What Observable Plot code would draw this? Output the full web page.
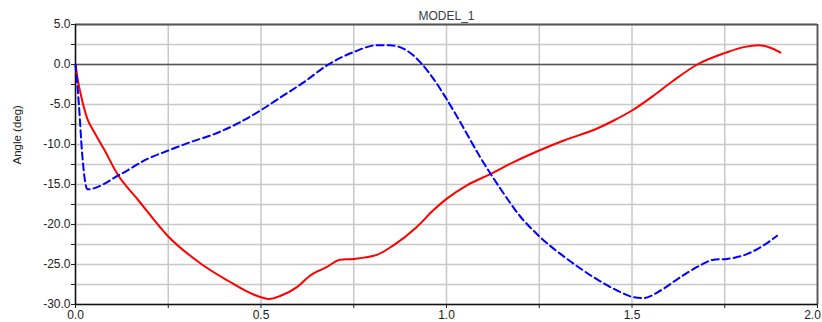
<!DOCTYPE html>
<html>
<head>
<meta charset="utf-8">
<script src="https://cdn.jsdelivr.net/npm/d3@7"></script>
<script src="https://cdn.jsdelivr.net/npm/@observablehq/plot@0.6"></script>
<style>
  html, body { margin: 0; padding: 0; background: #fff; }
  #chart svg { display: block; }
</style>
</head>
<body>
<div id="chart"></div>
<script>
const title = "MODEL_1";
const yLabel = "Angle (deg)";

const redX = [0, 0.005, 0.018, 0.032, 0.05, 0.077, 0.113, 0.17, 0.248, 0.338, 0.41, 0.48, 0.522, 0.553, 0.598, 0.632, 0.678, 0.713, 0.749, 0.812, 0.857, 0.92, 0.965, 1.0, 1.055, 1.118, 1.181, 1.25, 1.316, 1.406, 1.451, 1.5, 1.558, 1.612, 1.676, 1.752, 1.801, 1.842, 1.873, 1.9];
const redY = [0, -1.6, -4.5, -6.8, -8.4, -10.6, -13.7, -17.0, -21.4, -24.9, -27.0, -28.75, -29.3, -28.9, -27.8, -26.4, -25.3, -24.4, -24.3, -23.8, -22.6, -20.3, -18.2, -16.8, -15.1, -13.7, -12.2, -10.75, -9.5, -8.0, -7.0, -5.75, -3.9, -2.0, 0, 1.46, 2.17, 2.4, 2.1, 1.5];

const blueX = [0, 0.005, 0.009, 0.018, 0.032, 0.122, 0.194, 0.25, 0.31, 0.374, 0.436, 0.5, 0.553, 0.616, 0.678, 0.749, 0.812, 0.848, 0.893, 0.929, 0.965, 1.0, 1.037, 1.091, 1.145, 1.199, 1.253, 1.325, 1.397, 1.46, 1.505, 1.531, 1.577, 1.63, 1.684, 1.72, 1.756, 1.81, 1.855, 1.891];
const blueY = [0, -2.6, -4.9, -11.2, -15.6, -13.7, -11.8, -10.75, -9.7, -8.7, -7.4, -5.7, -4.1, -2.2, -0.1, 1.54, 2.4, 2.4, 1.75, 0.3, -1.8, -4.3, -7.2, -11.6, -15.5, -19.0, -21.6, -24.3, -26.6, -28.25, -29.1, -29.2, -28.25, -26.6, -25.1, -24.4, -24.3, -23.7, -22.6, -21.4];

const xTicks = [0, 0.25, 0.5, 0.75, 1.0, 1.25, 1.5, 1.75, 2.0];
const yTicks = [-30, -27.5, -25, -22.5, -20, -17.5, -15, -12.5, -10, -7.5, -5, -2.5, 0, 2.5, 5];

const red = redX.map((x, i) => ({x, y: redY[i]}));
const blue = blueX.map((x, i) => ({x, y: blueY[i]}));

const chart = Plot.plot({
  width: 822,
  height: 322,
  marginLeft: 75,
  marginRight: 5,
  marginTop: 24,
  marginBottom: 18,
  style: {fontFamily: "'Liberation Sans', Arial, sans-serif", fontSize: "12px", color: "#222", background: "#fff"},
  x: {domain: [0, 2]},
  y: {domain: [-30, 5]},
  marks: [
    Plot.gridX(xTicks, {stroke: "#c8c8c8", strokeOpacity: 1, strokeWidth: 1.5}),
    Plot.gridY(yTicks, {stroke: "#c8c8c8", strokeOpacity: 1, strokeWidth: 1.5}),
    Plot.ruleY([0], {stroke: "#555", strokeWidth: 1.5}),
    Plot.ruleY([5], {stroke: "#555", strokeWidth: 1.8}),
    Plot.ruleX([2], {stroke: "#555", strokeWidth: 1.8}),
    Plot.ruleX([0], {stroke: "#111", strokeWidth: 1.5}),
    Plot.ruleY([-30], {stroke: "#111", strokeWidth: 1.5}),
    Plot.axisX({ticks: xTicks, tickFormat: d => (Math.round(d * 100) % 50 === 0 && d < 2 ? d.toFixed(1) : ""), tickSize: 4, tickPadding: 2, label: null, fontSize: 12, color: "#222"}),
    Plot.axisX({ticks: [2], tickFormat: d => d.toFixed(1), tickSize: 0, tickPadding: 6, dx: -5, label: null, fontSize: 12, color: "#222"}),
    Plot.axisY({ticks: yTicks, tickFormat: d => (d % 5 === 0 ? d.toFixed(1) : ""), tickSize: 4, tickPadding: 1, label: null, fontSize: 12, color: "#222"}),
    Plot.line(red, {x: "x", y: "y", stroke: "#ff0000", strokeWidth: 2, curve: "monotone-x"}),
    Plot.line(blue, {x: "x", y: "y", stroke: "#0000ff", strokeWidth: 2, strokeDasharray: "7,4", curve: "monotone-x"}),
    Plot.text([title], {frameAnchor: "top", lineAnchor: "bottom", text: d => d, dy: -5, fontSize: 12, fill: "#3a3a48"}),
    Plot.text([yLabel], {frameAnchor: "left", text: d => d, rotate: -90, dx: -58, fontSize: 11.5, fill: "#222"})
  ]
});
document.getElementById("chart").appendChild(chart);
</script>
</body>
</html>
